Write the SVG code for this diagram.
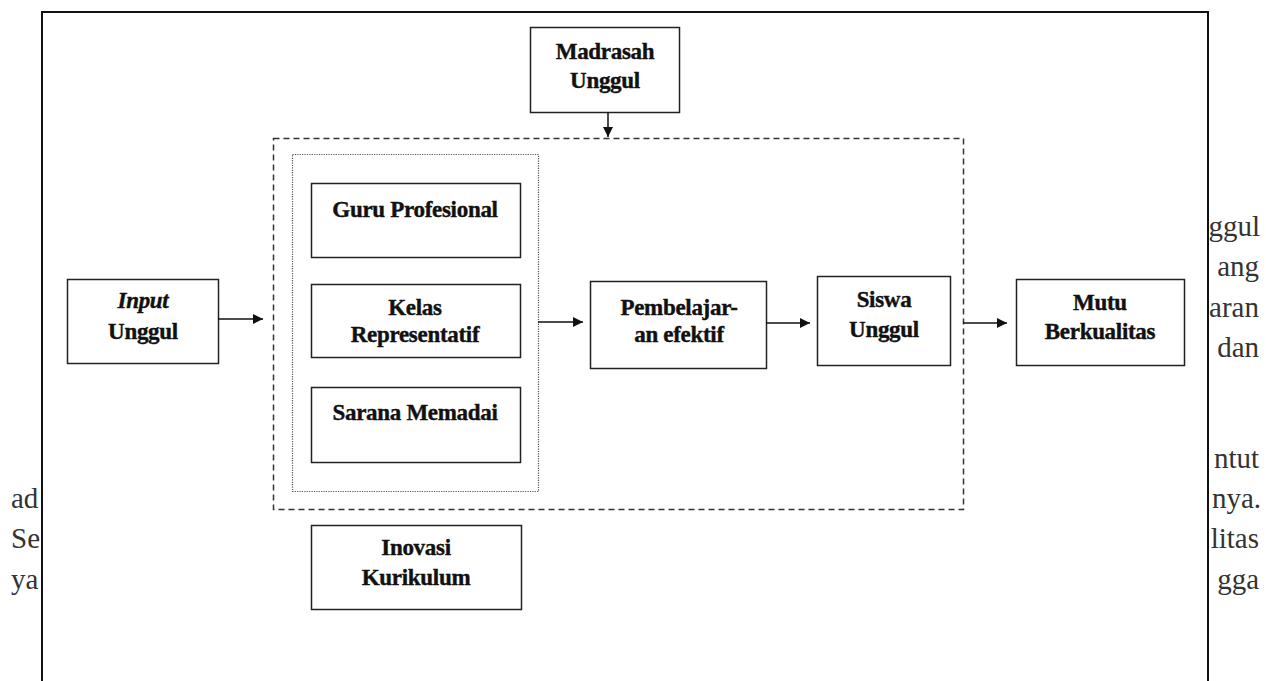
<svg xmlns="http://www.w3.org/2000/svg" width="1266" height="681" viewBox="0 0 1266 681">
<style>
.bg{font-family:"Liberation Serif","Times New Roman",serif;font-size:29px;fill:#333}
.bgr{text-anchor:end}
.box{fill:#fff;stroke:#222;stroke-width:1.5}
.lbl{font-family:"Liberation Serif","Times New Roman",serif;font-weight:bold;font-size:23px;fill:#111;stroke:#111;stroke-width:0.4;letter-spacing:-0.3px;text-anchor:middle}
.it{font-style:italic}
.conn{stroke:#111;stroke-width:1.5;fill:none}
</style>
<defs>
<marker id="ah" viewBox="0 0 10 10" refX="10" refY="5" markerWidth="12" markerHeight="10" markerUnits="userSpaceOnUse" orient="auto"><path d="M0,0 L10,5 L0,10 z" fill="#111"/></marker>
</defs>
<rect x="0" y="0" width="1266" height="681" fill="#fff"/>
<g id="page-text">
<text class="bg bgr" x="1260" y="236">ggul</text>
<text class="bg bgr" x="1259" y="276">ang</text>
<text class="bg bgr" x="1259" y="317">aran</text>
<text class="bg bgr" x="1259" y="357">dan</text>
<text class="bg bgr" x="1259" y="468">ntut</text>
<text class="bg bgr" x="1261" y="508">nya.</text>
<text class="bg bgr" x="1259" y="548">litas</text>
<text class="bg bgr" x="1259" y="589">gga</text>
<text class="bg" x="11" y="508">ad</text>
<text class="bg" x="11" y="548">Se</text>
<text class="bg" x="11" y="589">ya</text>
</g>
<rect id="frame" x="42" y="12" width="1166" height="700" fill="#fff" stroke="#111" stroke-width="2"/>
<g id="groups">
<rect id="dashed-group" x="273.5" y="138.5" width="690" height="371" fill="none" stroke="#333" stroke-width="1.5" stroke-dasharray="6 4"/>
<rect id="dotted-group" x="292.5" y="154.5" width="246" height="337" fill="none" stroke="#555" stroke-width="1.2" stroke-dasharray="1.2 1.2"/>
</g>
<g id="madrasah">
<rect class="box" x="530.5" y="27.5" width="149" height="85"/>
<text class="lbl" x="605" y="59">Madrasah</text>
<text class="lbl" x="605" y="88">Unggul</text>
</g>
<g id="input">
<rect class="box" x="67.5" y="279.5" width="151" height="84"/>
<text class="lbl it" x="143" y="308">Input</text>
<text class="lbl" x="143" y="339">Unggul</text>
</g>
<g id="guru">
<rect class="box" x="311.5" y="183.5" width="209" height="74"/>
<text class="lbl" x="415" y="217">Guru Profesional</text>
</g>
<g id="kelas">
<rect class="box" x="311.5" y="284.5" width="209" height="73"/>
<text class="lbl" x="415" y="315">Kelas</text>
<text class="lbl" x="415" y="342">Representatif</text>
</g>
<g id="sarana">
<rect class="box" x="311.5" y="387.5" width="209" height="75"/>
<text class="lbl" x="415" y="420">Sarana Memadai</text>
</g>
<g id="pembelajaran">
<rect class="box" x="590.5" y="281.5" width="176" height="87"/>
<text class="lbl" x="679" y="315">Pembelajar-</text>
<text class="lbl" x="679" y="342">an efektif</text>
</g>
<g id="siswa">
<rect class="box" x="817.5" y="276.5" width="133" height="89"/>
<text class="lbl" x="884" y="307">Siswa</text>
<text class="lbl" x="884" y="337">Unggul</text>
</g>
<g id="mutu">
<rect class="box" x="1016.5" y="279.5" width="168" height="86"/>
<text class="lbl" x="1100" y="310">Mutu</text>
<text class="lbl" x="1100" y="339">Berkualitas</text>
</g>
<g id="inovasi">
<rect class="box" x="311.5" y="525.5" width="210" height="84"/>
<text class="lbl" x="416" y="555">Inovasi</text>
<text class="lbl" x="416" y="585">Kurikulum</text>
</g>
<g id="connectors">
<path class="conn" d="M218,319 H263" marker-end="url(#ah)"/>
<path class="conn" d="M608,112 V137" marker-end="url(#ah)"/>
<path class="conn" d="M538,322 H583" marker-end="url(#ah)"/>
<path class="conn" d="M766,323 H810" marker-end="url(#ah)"/>
<path class="conn" d="M963,323 H1007" marker-end="url(#ah)"/>
</g>
</svg>
